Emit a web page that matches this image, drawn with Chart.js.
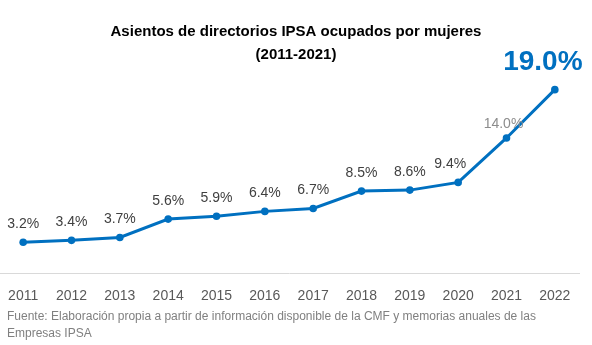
<!DOCTYPE html>
<html>
<head>
<meta charset="utf-8">
<script src="https://cdn.jsdelivr.net/npm/chart.js@4"></script>
<style>
  html, body { margin: 0; padding: 0; background: #fff; overflow: hidden; }
  #wrap { position: relative; width: 592px; height: 345px; overflow: hidden; }
  #box { position: absolute; left: -5px; top: 0; width: 602px; height: 320px; }
  #fuente {
    position: absolute; left: 7px; top: 308px; width: 560px;
    font: 12px "Liberation Sans", Arial, sans-serif; color: #808080; line-height: 17px;
  }
</style>
</head>
<body>
<div id="wrap">
  <div id="box"><canvas id="chart"></canvas></div>
  <div id="fuente">Fuente: Elaboración propia a partir de información disponible de la CMF y memorias anuales de las Empresas IPSA</div>
</div>
<script>
const years = ['2011', '2012', '2013', '2014', '2015', '2016', '2017', '2018', '2019', '2020', '2021', '2022'];
const sharePct = [3.2, 3.4, 3.7, 5.6, 5.9, 6.4, 6.7, 8.5, 8.6, 9.4, 14.0, 19.0];
const titleLines = ['Asientos de directorios IPSA ocupados por mujeres', '(2011-2021)'];

const BLUE = '#0070C0';

// etiquetas sobre cada punto
const pointLabels = {
    id: 'pointLabels',
    afterDatasetsDraw(chart) {
        const ctx = chart.ctx;
        const pts = chart.getDatasetMeta(0).data;
        const last = pts.length - 1;
        ctx.save();
        ctx.textAlign = 'center';
        ctx.textBaseline = 'middle';
        pts.forEach((p, i) => {
            const txt = sharePct[i].toFixed(1) + '%';
            let dx = 0, dy = 18;
            if (i === last) {
                ctx.font = 'bold 28px "Liberation Sans", Arial, sans-serif';
                ctx.fillStyle = BLUE;
                dx = -12; dy = 27;
            } else if (i === last - 1) {
                ctx.font = '14px "Liberation Sans", Arial, sans-serif';
                ctx.fillStyle = '#8c8c8c';
                dx = -3; dy = 14;
            } else {
                ctx.font = '14px "Liberation Sans", Arial, sans-serif';
                ctx.fillStyle = '#404040';
                if (i === last - 2) dx = -8;
            }
            ctx.fillText(txt, p.x + dx, p.y - dy);
        });
        ctx.restore();
    }
};

new Chart(document.getElementById('chart'), {
    type: 'line',
    data: {
        labels: years,
        datasets: [{
            data: sharePct,
            borderColor: BLUE,
            backgroundColor: BLUE,
            borderWidth: 3,
            pointRadius: 3.8,
            pointBackgroundColor: BLUE,
            pointBorderWidth: 0,
            tension: 0
        }]
    },
    options: {
        responsive: true,
        maintainAspectRatio: false,
        animation: false,
        layout: { padding: 0 },
        plugins: {
            legend: { display: false },
            tooltip: { enabled: false },
            title: {
                display: true,
                text: titleLines,
                color: '#000',
                font: { family: '"Liberation Sans", Arial, sans-serif', size: 15, weight: 'bold', lineHeight: 1.5 },
                padding: { top: 21, bottom: 14 }
            }
        },
        scales: {
            x: {
                offset: true,
                grid: { display: false, drawTicks: false },
                border: { display: true, color: '#d9d9d9', width: 1 },
                ticks: {
                    color: '#595959',
                    padding: 15,
                    font: { family: '"Liberation Sans", Arial, sans-serif', size: 14 }
                },
                afterFit(scale) {
                    scale.paddingLeft = 0;
                    scale.paddingRight = 18;
                }
            },
            y: {
                display: false,
                min: 0,
                max: 20
            }
        }
    },
    plugins: [pointLabels]
});
</script>
</body>
</html>
